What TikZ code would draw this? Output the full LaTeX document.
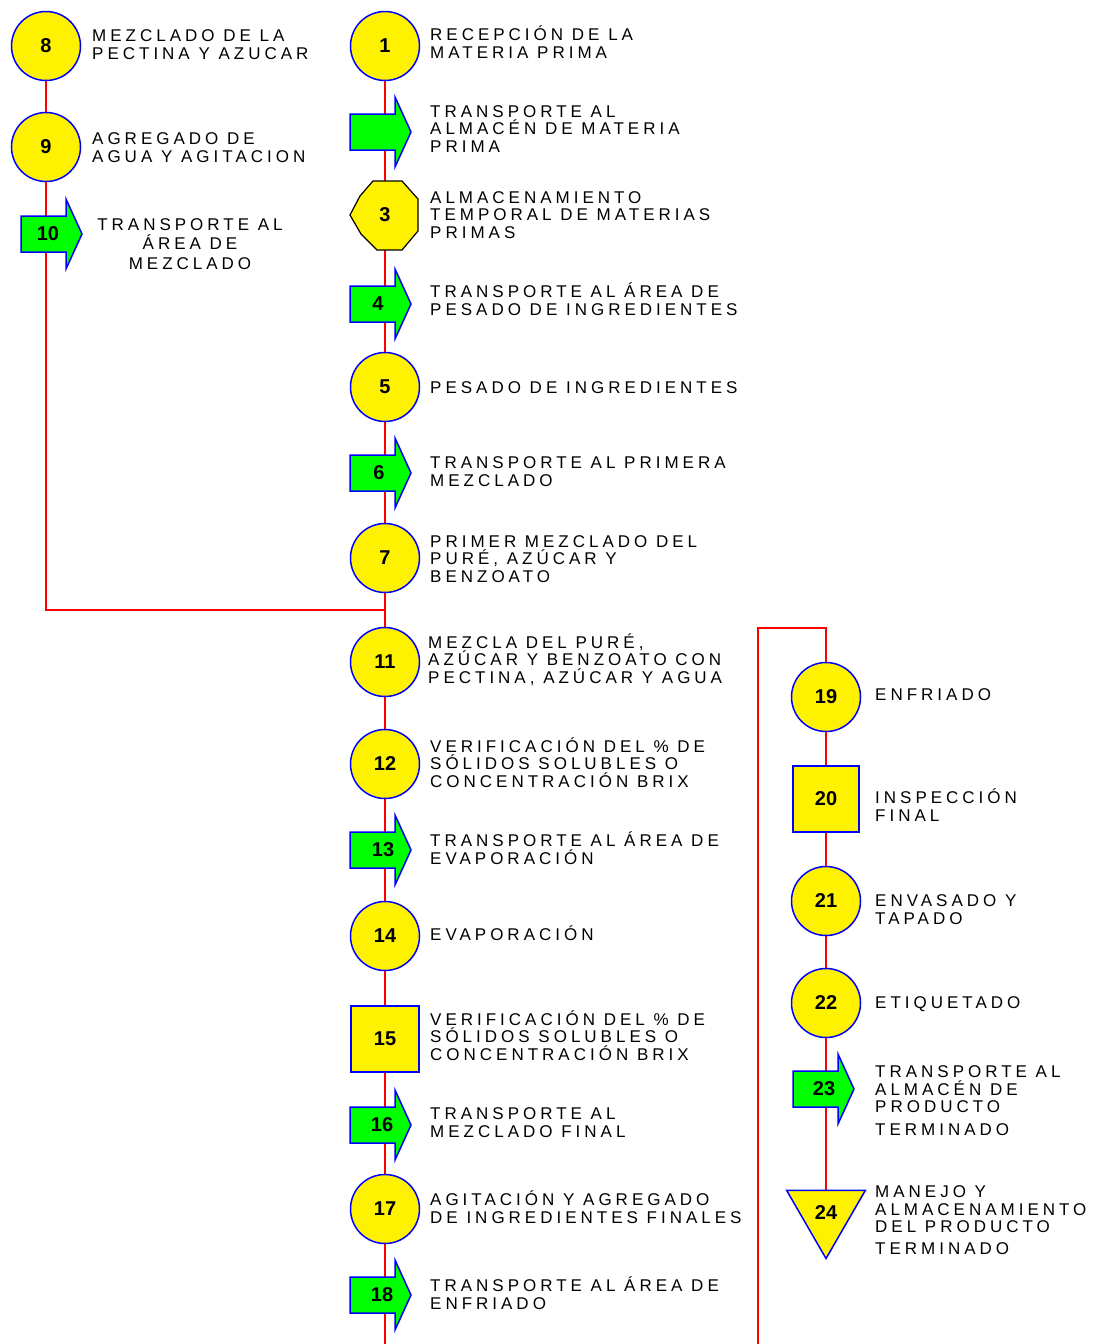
\documentclass[tikz,border=0pt]{standalone}
\usepackage{fontspec}
\setmainfont{Liberation Sans}
\newfontfamily\spacedfont[LetterSpace=23.5]{Liberation Sans}
\newcommand\stepnumfont{\fontsize{20}{20}\selectfont\bfseries}
\newcommand\steplabelfont{\spacedfont\fontsize{17}{17.5}\selectfont}
\usetikzlibrary{backgrounds,shapes.geometric}

% transport symbol: #1 name, #2 x of the flow line, #3 left edge, #4 centre y
\newcommand\transportarrow[4]{%
  \filldraw[transp] (#3,{#4-18}) -- ({#3+45},{#4-18}) -- ({#3+45},{#4-35})
    -- ({#3+61},#4) -- ({#3+45},{#4+35}) -- ({#3+45},{#4+18}) -- (#3,{#4+18}) -- cycle;
  \node[inner sep=0, minimum size=0] (#1) at (#2,#4) {};
}

\begin{document}
\begin{tikzpicture}[x=1pt,y=-1pt,
  flow/.style={draw=red, line width=2},
  opstep/.style={circle, draw=blue, fill=yellow, line width=1.5, minimum size=69,
    inner sep=0, font=\stepnumfont},
  inspstep/.style={rectangle, draw=blue, fill=yellow, line width=1.5,
    minimum width=66, minimum height=66, inner sep=0, font=\stepnumfont},
  transp/.style={draw=blue, fill=green, line width=1.5},
  storestep/.style={draw=black, fill=yellow, line width=1.2},
  finalstore/.style={regular polygon, regular polygon sides=3, shape border rotate=180,
    draw=blue, fill=yellow, line width=1.5, minimum size=91, inner sep=0, font=\stepnumfont},
  numtext/.style={inner sep=0, font=\stepnumfont},
  lbl/.style={anchor=base west, align=left, inner sep=0, font=\steplabelfont}]
\useasboundingbox (0,0) rectangle (1098,1344);

% ---- left branch: pectin preparation
\node[opstep] (n8) at (46,46) {8};
\node[lbl] (l8) at (92,59) {MEZCLADO DE LA\\PECTINA Y AZUCAR};
\node[opstep] (n9) at (46,147) {9};
\node[lbl] (l9) at (92,162) {AGREGADO DE\\AGUA Y AGITACION};
\transportarrow{t10}{46}{21}{234}
\node[numtext] (m10) at (48,234) {10};
\node[anchor=base, align=center, inner sep=0, font=\steplabelfont] (l10) at (190,269)
  {TRANSPORTE AL\\[2pt]ÁREA DE\\[2pt]MEZCLADO};

% ---- main line
\node[opstep] (n1) at (385,46) {1};
\node[lbl] (l1) at (430,58) {RECEPCIÓN DE LA\\MATERIA PRIMA};
\transportarrow{t2}{385}{350}{132}
\node[lbl] (l2) at (430,152) {TRANSPORTE AL\\ALMACÉN DE MATERIA\\PRIMA};
\filldraw[storestep] (373,181) -- (402,181) -- (418,199) -- (418,231) -- (402,250)
  -- (377,250) -- (361,234) -- (350,215) -- (360,196) -- cycle;
\node[numtext] (n3) at (385,215) {3};
\node[lbl] (l3) at (430,238) {ALMACENAMIENTO\\TEMPORAL DE MATERIAS\\PRIMAS};
\transportarrow{t4}{385}{350}{304}
\node[numtext] (m4) at (378,304) {4};
\node[lbl] (l4) at (430,315) {TRANSPORTE AL ÁREA DE\\PESADO DE INGREDIENTES};
\node[opstep] (n5) at (385,387) {5};
\node[lbl] (l5) at (430,393) {PESADO DE INGREDIENTES};
\transportarrow{t6}{385}{350}{473}
\node[numtext] (m6) at (379,473) {6};
\node[lbl] (l6) at (430,486) {TRANSPORTE AL PRIMERA\\MEZCLADO};
\node[opstep] (n7) at (385,558) {7};
\node[lbl] (l7) at (430,582) {PRIMER MEZCLADO DEL\\PURÉ, AZÚCAR Y\\BENZOATO};
\coordinate (j) at (385,610);
\node[opstep] (n11) at (385,662) {11};
\node[lbl] (l11) at (428,683) {MEZCLA DEL PURÉ,\\AZÚCAR Y BENZOATO CON\\PECTINA, AZÚCAR Y AGUA};
\node[opstep] (n12) at (385,764) {12};
\node[lbl] (l12) at (430,787) {VERIFICACIÓN DEL \% DE\\SÓLIDOS SOLUBLES O\\CONCENTRACIÓN BRIX};
\transportarrow{t13}{385}{350}{850}
\node[numtext] (m13) at (383,850) {13};
\node[lbl] (l13) at (430,864) {TRANSPORTE AL ÁREA DE\\EVAPORACIÓN};
\node[opstep] (n14) at (385,936) {14};
\node[lbl] (l14) at (430,940) {EVAPORACIÓN};
\node[inspstep, minimum width=68] (n15) at (385,1039) {15};
\node[lbl] (l15) at (430,1060) {VERIFICACIÓN DEL \% DE\\SÓLIDOS SOLUBLES O\\CONCENTRACIÓN BRIX};
\transportarrow{t16}{385}{350}{1125}
\node[numtext] (m16) at (382,1125) {16};
\node[lbl] (l16) at (430,1137) {TRANSPORTE AL\\MEZCLADO FINAL};
\node[opstep] (n17) at (385,1209) {17};
\node[lbl] (l17) at (430,1223) {AGITACIÓN Y AGREGADO\\DE INGREDIENTES FINALES};
\transportarrow{t18}{385}{350}{1295}
\node[numtext] (m18) at (382,1295) {18};
\node[lbl] (l18) at (430,1309) {TRANSPORTE AL ÁREA DE\\ENFRIADO};
\coordinate (bot1) at (385,1344);

% ---- right column: finishing
\coordinate (bot2) at (758,1344);
\coordinate (rtop) at (826,628);
\node[opstep] (n19) at (826,697) {19};
\node[lbl] (l19) at (875,700) {ENFRIADO};
\node[inspstep] (n20) at (826,799) {20};
\node[lbl] (l20) at (875,821) {INSPECCIÓN\\FINAL};
\node[opstep] (n21) at (826,901) {21};
\node[lbl] (l21) at (875,924) {ENVASADO Y\\TAPADO};
\node[opstep] (n22) at (826,1003) {22};
\node[lbl] (l22) at (875,1008) {ETIQUETADO};
\transportarrow{t23}{826}{793}{1089}
\node[numtext] (m23) at (824,1089) {23};
\node[lbl] (l23) at (875,1135) {TRANSPORTE AL\\ALMACÉN DE\\PRODUCTO\\[5pt]TERMINADO};
\node[finalstore] (n24) at (826,1213) {24};
\node[lbl] (l24) at (875,1254) {MANEJO Y\\ALMACENAMIENTO\\DEL PRODUCTO\\[4pt]TERMINADO};

% ---- flow lines behind the symbols
\begin{scope}[on background layer]
  \fill[white] (0,0) rectangle (1098,1344);
  \draw[flow] (n8.center) -- (n9.center) -- (t10.center) |- (j);
  \draw[flow] (n1.center) -- (t2.center) -- (n3.center) -- (t4.center) -- (n5.center)
    -- (t6.center) -- (n7.center) -- (j) -- (n11.center) -- (n12.center)
    -- (t13.center) -- (n14.center) -- (n15.center) -- (t16.center)
    -- (n17.center) -- (t18.center) -- (bot1);
  \draw[flow] (bot2) |- (rtop) -- (n19.center) -- (n20.center) -- (n21.center)
    -- (n22.center) -- (t23.center) -- (n24.center);
\end{scope}
\end{tikzpicture}
\end{document}
